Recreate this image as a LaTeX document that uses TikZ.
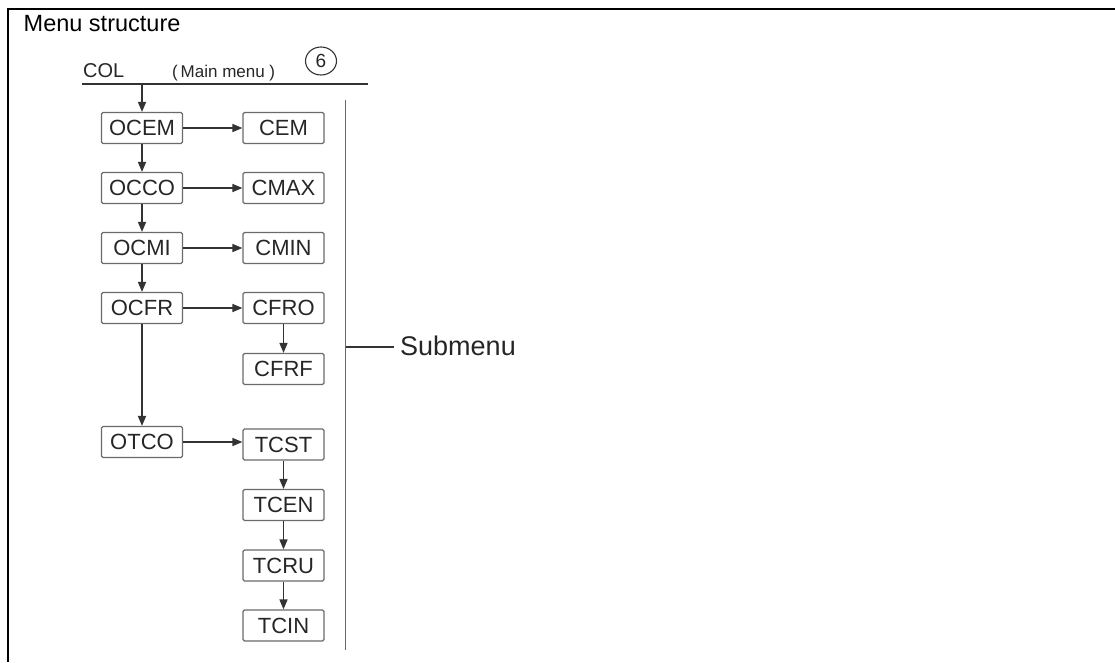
\documentclass[tikz,border=0pt]{standalone}
\usepackage{fontspec}
\setmainfont{Liberation Sans}
\usetikzlibrary{arrows.meta,shapes.geometric}
\definecolor{txt}{HTML}{262626}
\definecolor{boxc}{HTML}{6A6A6A}
\definecolor{linec}{HTML}{333333}
\tikzset{
  menubox/.style={draw=boxc, line width=1.2pt, rounded corners=1.5pt, minimum width=81pt, minimum height=31pt, inner sep=0pt, text=txt, font=\fontsize{22}{22}\selectfont},
  conn/.style={draw=linec, line width=1.5pt, -{Triangle[length=10pt,width=8pt]}},
  plain/.style={draw=linec, line width=1.5pt},
}
\begin{document}
\begin{tikzpicture}[x=1pt,y=-1pt]
\useasboundingbox (0,0) rectangle (1115,662);
% frame
\draw[line width=2pt, black] (1115,9) -- (8,9) -- (8,662);
% title
\node[anchor=base west, inner sep=0pt, font=\fontsize{23.5}{23.5}\selectfont] (title) at (23.5,31) {Menu structure};
% main line
\node[anchor=base west, inner sep=0pt, text=txt, font=\fontsize{20}{20}\selectfont] (col) at (83,77) {COL};
\node[anchor=base west, inner sep=0pt, text=txt, font=\fontsize{17}{17}\selectfont] (mm) at (172,77) {(\,Main menu )};
\node[draw=linec, line width=1.1pt, ellipse, minimum width=31pt, minimum height=28pt, inner sep=0pt, text=txt, font=\fontsize{19}{19}\selectfont] (six) at (321,61) {6};
\coordinate (mlL) at (82,84);
\coordinate (mlR) at (368,84);
\draw[plain] (mlL) -- (mlR);
\coordinate (mtop) at (142,84);
% left column
\node[menubox] (ocem) at (142,128) {OCEM};
\node[menubox] (occo) at (142,188) {OCCO};
\node[menubox] (ocmi) at (142,248) {OCMI};
\node[menubox] (ocfr) at (142,308) {OCFR};
\node[menubox] (otco) at (142,442) {OTCO};
% right column
\node[menubox] (cem) at (283.5,128) {CEM};
\node[menubox] (cmax) at (283.5,188) {CMAX};
\node[menubox] (cmin) at (283.5,248) {CMIN};
\node[menubox] (cfro) at (283.5,308) {CFRO};
\node[menubox] (cfrf) at (283.5,369) {CFRF};
\node[menubox] (tcst) at (283.5,444.5) {TCST};
\node[menubox] (tcen) at (283.5,505) {TCEN};
\node[menubox] (tcru) at (283.5,565.5) {TCRU};
\node[menubox] (tcin) at (283.5,625.5) {TCIN};
% vertical arrows left
\draw[conn] (mtop) -- (ocem.north);
\draw[conn] (ocem) -- (occo);
\draw[conn] (occo) -- (ocmi);
\draw[conn] (ocmi) -- (ocfr);
\draw[conn] (ocfr) -- (otco);
% horizontal arrows
\draw[conn] (ocem) -- (cem);
\draw[conn] (occo) -- (cmax);
\draw[conn] (ocmi) -- (cmin);
\draw[conn] (ocfr) -- (cfro);
\draw[conn] (otco.east) -- (tcst.west |- otco.east);
% vertical arrows right
\draw[conn] (cfro) -- (cfrf);
\draw[conn] (tcst) -- (tcen);
\draw[conn] (tcen) -- (tcru);
\draw[conn] (tcru) -- (tcin);
% submenu bracket
\coordinate (bt) at (345.5,100);
\coordinate (bb) at (345.5,650);
\coordinate (bm) at (345.5,347);
\coordinate (subL) at (394,347);
\draw[plain, draw=boxc] (bt) -- (bb);
\node[anchor=base west, inner sep=0pt, text=txt, font=\fontsize{27}{27}\selectfont] (sub) at (400,355) {Submenu};
\draw[plain] (bm) -- (subL);
\end{tikzpicture}
\end{document}
